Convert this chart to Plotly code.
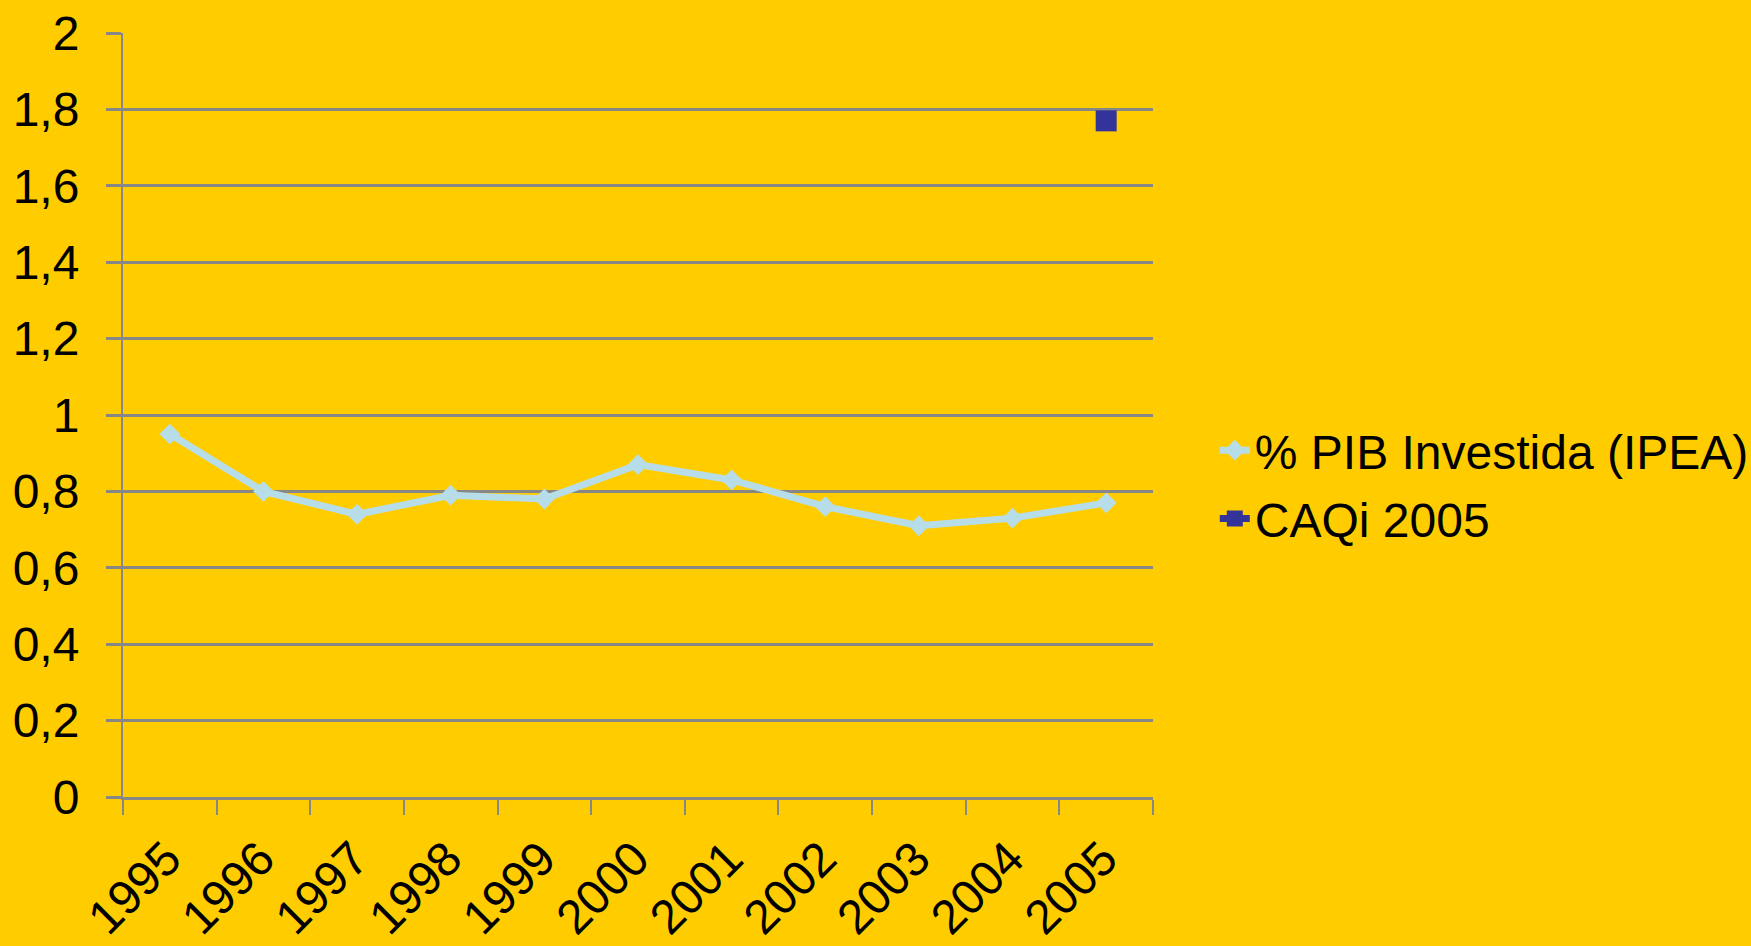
import plotly.graph_objects as go

years = ["1995", "1996", "1997", "1998", "1999", "2000", "2001", "2002", "2003", "2004", "2005"]
pib_ipea = [0.95, 0.80, 0.74, 0.79, 0.78, 0.87, 0.83, 0.76, 0.71, 0.73, 0.77]
caqi_years = ["2005"]
caqi_vals = [1.77]

y_ticks = [0, 0.2, 0.4, 0.6, 0.8, 1, 1.2, 1.4, 1.6, 1.8, 2]

FONT = "Liberation Sans, Arial, sans-serif"
GRID = "#878787"
BG = "#FFCC00"

fig = go.Figure()
fig.add_trace(go.Scatter(
    x=years, y=pib_ipea, name="% PIB Investida (IPEA)",
    mode="lines+markers", legendgroup="a",
    line=dict(color="#B7DEE8", width=7),
    marker=dict(symbol="diamond", size=16, color="#B7DEE8"),
))
fig.add_trace(go.Scatter(
    x=caqi_years, y=caqi_vals, name="CAQi 2005",
    mode="lines+markers", legendgroup="b",
    line=dict(color="#333399", width=7),
    marker=dict(symbol="square", size=21, color="#333399"),
))

fig.update_layout(
    width=1751, height=946,
    paper_bgcolor=BG, plot_bgcolor=BG,
    margin=dict(l=123, r=598, t=33, b=149, autoexpand=False),
    separators=", ",
    font=dict(family=FONT, size=48, color="black"),
    showlegend=True,
    legend=dict(
        x=1.06, xanchor="left", y=0.409, yanchor="middle",
        bgcolor="rgba(0,0,0,0)", font=dict(family=FONT, size=48, color="black"),
        tracegroupgap=3,
    ),
)
fig.update_xaxes(
    type="category", categoryorder="array", categoryarray=years,
    range=[-0.5, 10.5], automargin=False,
    showgrid=False, showline=True, linecolor=GRID, linewidth=3,
    ticks="outside", ticklen=15, tickwidth=2, tickcolor=GRID,
    tickson="boundaries", tickangle=-45,
    ticklabelstandoff=11, ticklabelshift=-3,
    tickfont=dict(family=FONT, size=48, color="black"),
    zeroline=False,
)
fig.update_yaxes(
    range=[0, 2], tickvals=y_ticks, automargin=False,
    showgrid=True, gridcolor=GRID, gridwidth=3,
    showline=True, linecolor=GRID, linewidth=2,
    ticks="outside", ticklen=15, tickwidth=3, tickcolor=GRID,
    ticklabelstandoff=17,
    tickfont=dict(family=FONT, size=48, color="black"),
    zeroline=False,
)

fig.write_html(
    "out.html",
    config={"displayModeBar": False},
    post_script="document.body.style.margin='0';document.body.style.overflow='hidden';",
)
